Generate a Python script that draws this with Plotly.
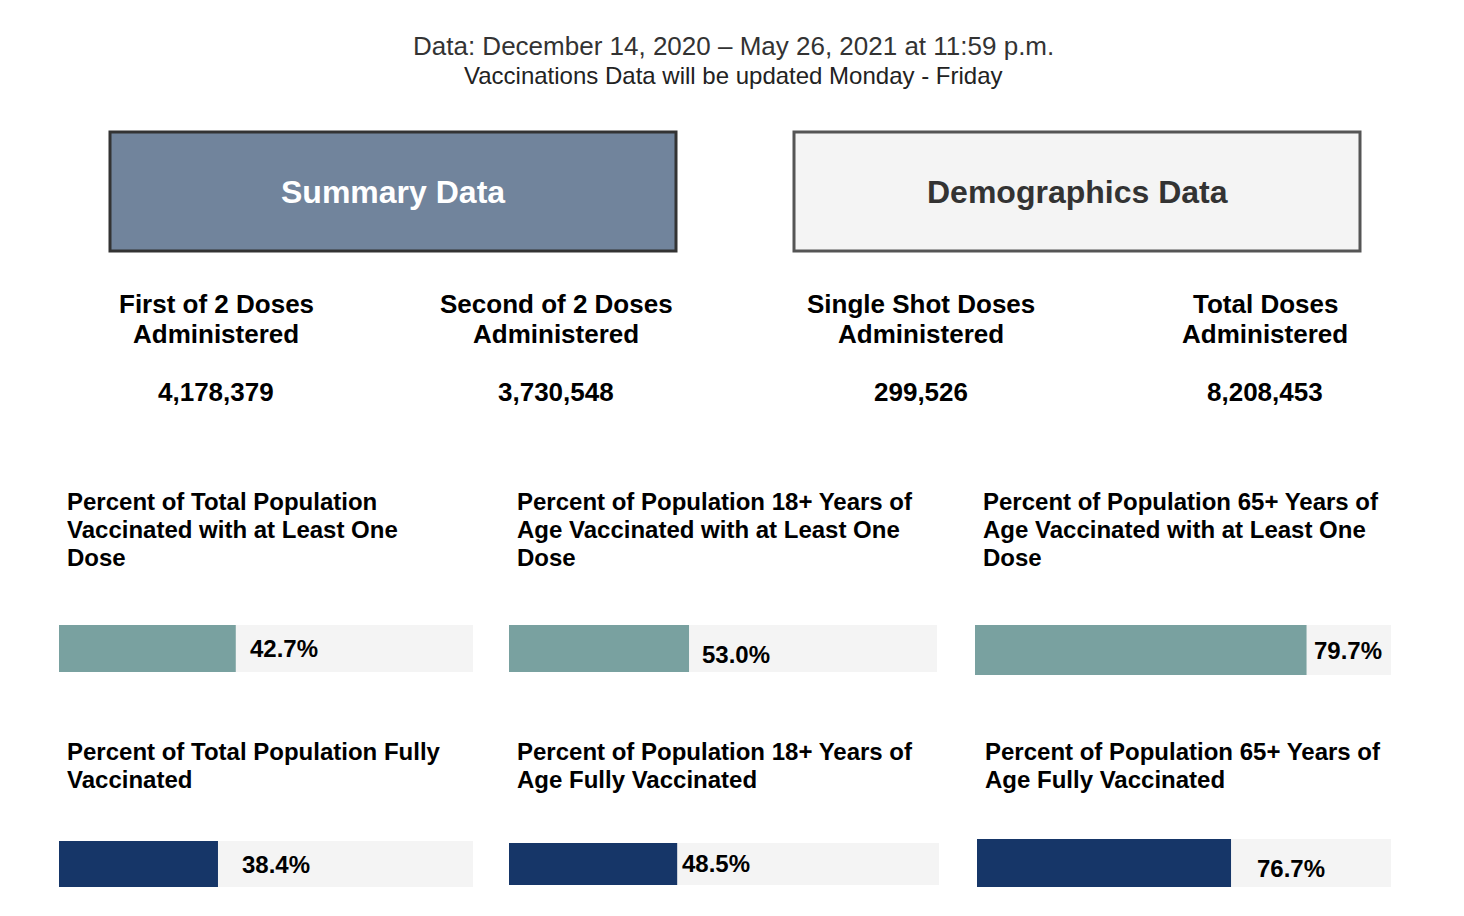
import plotly.graph_objects as go

W, H = 1464, 916

# ---- data ----
header_line1 = "Data: December 14, 2020 – May 26, 2021 at 11:59 p.m."
header_line2 = "Vaccinations Data will be updated Monday - Friday"
tab_labels = ["Summary Data", "Demographics Data"]

metric_names = [["First of 2 Doses", "Administered"],
                ["Second of 2 Doses", "Administered"],
                ["Single Shot Doses", "Administered"],
                ["Total Doses", "Administered"]]
metric_values = ["4,178,379", "3,730,548", "299,526", "8,208,453"]

panel_titles = [
    [["Percent of Total Population", "Vaccinated with at Least One", "Dose"],
     ["Percent of Population 18+ Years of", "Age Vaccinated with at Least One", "Dose"],
     ["Percent of Population 65+ Years of", "Age Vaccinated with at Least One", "Dose"]],
    [["Percent of Total Population Fully", "Vaccinated"],
     ["Percent of Population 18+ Years of", "Age Fully Vaccinated"],
     ["Percent of Population 65+ Years of", "Age Fully Vaccinated"]],
]
pct_values = [[42.7, 53.0, 79.7],
              [38.4, 48.5, 76.7]]
axis_max = [[100, 126, 100],
            [100, 124, 125]]

# ---- styling / layout ----
row_colors = ["#79a1a0", "#163668"]
bg_bar = "#f4f4f4"
bar_boxes = [  # x0, x1, y0, y1 in pixels
    [(59, 473, 625, 672), (509, 937, 625, 672), (975, 1391, 625, 675)],
    [(59, 473, 841, 887), (509, 939, 843, 885), (977, 1391, 839, 887)],
]
label_shift = [[(12, 0), (11, -6), (5, 0)],
               [(22, 0), (3, 1), (24, -5)]]
title_x = [[65, 515, 981], [65, 515, 983]]
title_y0 = [501, 751]
title_dy = 28
metric_x = [216, 556, 921, 1265]

FONT = "Liberation Sans, Arial, Helvetica, sans-serif"


def px(x):
    return x / W


def py(y):
    return 1 - y / H


def paper_text(x, y, text, size, color, xanchor="center"):
    return dict(x=px(x), y=py(y), xref="paper", yref="paper", text=text,
                showarrow=False, xanchor=xanchor, yanchor="middle",
                font=dict(family=FONT, size=size, color=color))


fig = go.Figure()
annotations = []
shapes = []

# header
annotations.append(paper_text(733, 46, header_line1, 26, "#333333"))
annotations.append(paper_text(734, 75, header_line2, 24, "#222222"))

# tabs
tab_boxes = [(110, 676, 132, 251), (794, 1360, 132, 251)]
tab_fill = ["#71849c", "#f4f4f4"]
tab_line = ["#333333", "#555555"]
tab_font = ["#ffffff", "#333333"]
for i, (x0, x1, y0, y1) in enumerate(tab_boxes):
    shapes.append(dict(type="rect", xref="paper", yref="paper",
                       x0=px(x0), x1=px(x1), y0=py(y1), y1=py(y0),
                       fillcolor=tab_fill[i], line=dict(color=tab_line[i], width=3)))
    annotations.append(paper_text((x0 + x1) / 2, (y0 + y1) / 2,
                                  "<b>%s</b>" % tab_labels[i], 32, tab_font[i]))

# metrics
for i, lines in enumerate(metric_names):
    for j, line in enumerate(lines):
        annotations.append(paper_text(metric_x[i], 304 + 30 * j, "<b>%s</b>" % line, 26, "#000000"))
    annotations.append(paper_text(metric_x[i], 392, "<b>%s</b>" % metric_values[i], 26, "#000000"))

# panels
layout_axes = {}
k = 0
for r in range(2):
    for c in range(3):
        k += 1
        xa = "x" if k == 1 else "x%d" % k
        ya = "y" if k == 1 else "y%d" % k
        x0, x1, y0, y1 = bar_boxes[r][c]
        vmax = axis_max[r][c]
        v = pct_values[r][c]
        fig.add_trace(go.Bar(x=[vmax], y=[0], orientation="h", width=1,
                             marker=dict(color=bg_bar, line=dict(width=0)),
                             xaxis=xa, yaxis=ya, hoverinfo="skip", showlegend=False))
        fig.add_trace(go.Bar(x=[v], y=[0], orientation="h", width=1,
                             marker=dict(color=row_colors[r], line=dict(width=0)),
                             xaxis=xa, yaxis=ya, showlegend=False,
                             hovertemplate="%{x:.1f}%<extra></extra>"))
        layout_axes["xaxis" if k == 1 else "xaxis%d" % k] = dict(
            domain=[px(x0), px(x1)], range=[0, vmax], visible=False, fixedrange=True,
            anchor=ya)
        layout_axes["yaxis" if k == 1 else "yaxis%d" % k] = dict(
            domain=[py(y1), py(y0)], range=[-0.5, 0.5], visible=False, fixedrange=True,
            anchor=xa)
        dx, dy = label_shift[r][c]
        annotations.append(dict(x=v, y=0, xref=xa, yref=ya, text="<b>%.1f%%</b>" % v,
                                showarrow=False, xanchor="left", yanchor="middle",
                                xshift=dx, yshift=dy,
                                font=dict(family=FONT, size=24, color="#000000")))
        for j, line in enumerate(panel_titles[r][c]):
            annotations.append(paper_text(title_x[r][c], title_y0[r] + title_dy * j,
                                          "<b>%s</b>" % line, 24, "#000000", xanchor="left"))

fig.update_layout(width=W, height=H, margin=dict(l=0, r=0, t=0, b=0),
                  paper_bgcolor="#ffffff", plot_bgcolor="rgba(0,0,0,0)",
                  barmode="overlay", showlegend=False,
                  annotations=annotations, shapes=shapes, **layout_axes)

fig.write_html("out.html", config={"displayModeBar": False},
               post_script="document.body.style.margin='0px';document.body.style.overflow='hidden';")
